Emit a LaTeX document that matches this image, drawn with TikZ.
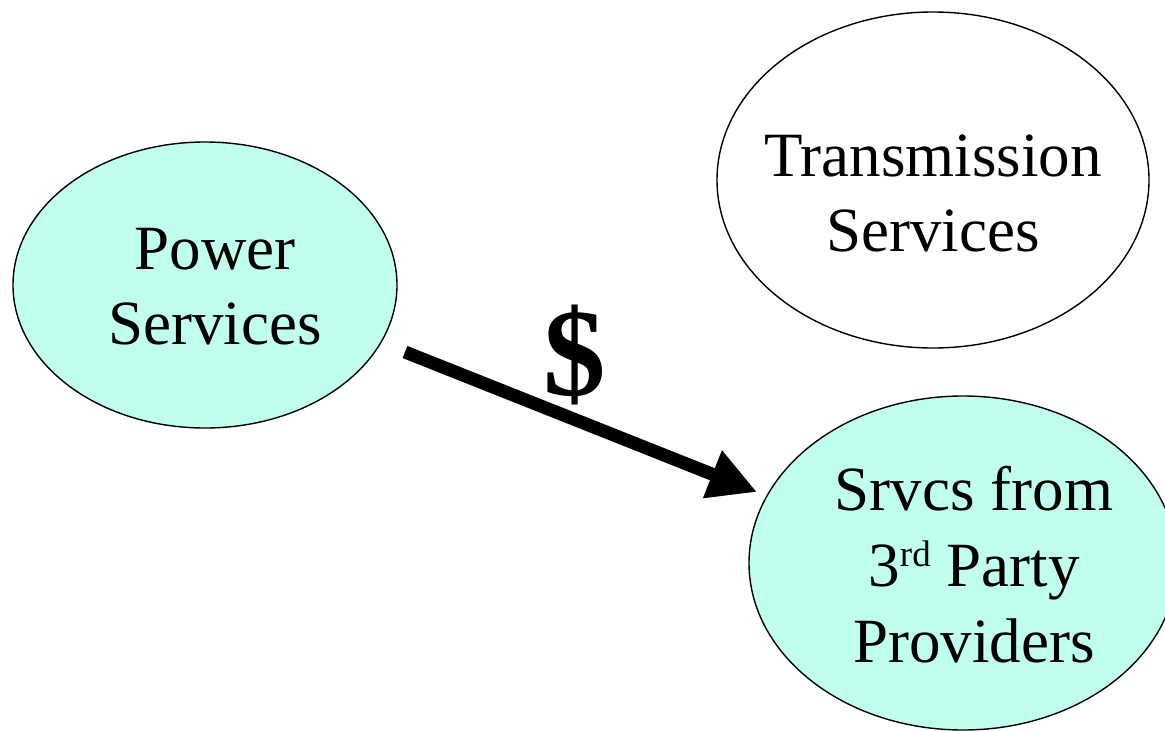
\documentclass[tikz,border=0pt]{standalone}
\usepackage{fontspec}
\setmainfont{Liberation Serif}
\usetikzlibrary{shapes.geometric,arrows.meta}
\definecolor{svcfill}{RGB}{192,255,238}
\newcommand{\supx}[1]{\raisebox{20pt}{\fontsize{37}{37}\selectfont #1}}
\tikzset{
  oval/.style={ellipse, draw=black, line width=1.4pt, inner sep=0pt, align=center,
    font=\fontsize{63}{75}\selectfont},
  money/.style={-{Triangle[length=48pt,width=48pt]}, line width=13pt, black},
}
\begin{document}
\begin{tikzpicture}[x=1pt,y=-1pt]
\useasboundingbox (0,0) rectangle (1165,731);
\clip (0,0) rectangle (1165,731);
\fill[white] (0,0) rectangle (1165,731);
\node[oval, fill=svcfill, minimum width=384pt, minimum height=286pt] (pw) at (205,285) {};
\node[font=\fontsize{63}{75}\selectfont, align=center] (pwt) at (215,287) {Power\\Services};
\node[oval, fill=white, minimum width=432pt, minimum height=336pt] (tr) at (933,180) {};
\node[font=\fontsize{63}{75}\selectfont, align=center] (trt) at (933,193) {Transmission\\Services};
\node[oval, fill=svcfill, minimum width=428pt, minimum height=334pt] (sv) at (963,563) {};
\node[font=\fontsize{63}{76}\selectfont, align=center] (svt) at (974,565) {Srvcs from\\3\supx{rd} Party\\Providers};
\coordinate (a) at (405,352);
\coordinate (b) at (757,492);
\draw[money] (a) -- (b);
\node[font=\fontsize{125}{130}\bfseries\selectfont] (dl) at (575,355) {\$};
\end{tikzpicture}
\end{document}
